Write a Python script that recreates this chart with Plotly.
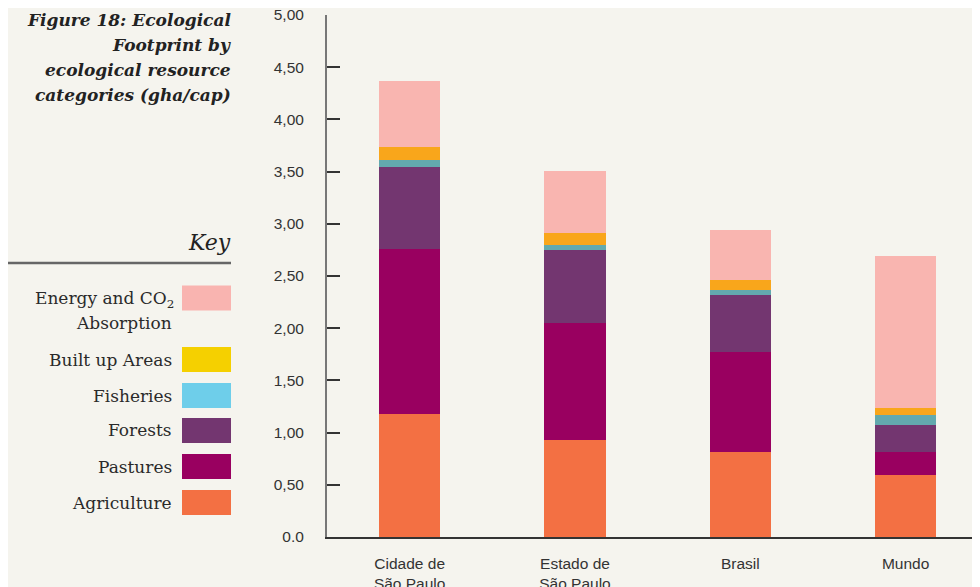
import plotly.graph_objects as go

# ---- data ----
categories = ["Cidade de<br>São Paulo", "Estado de<br>São Paulo", "Brasil", "Mundo"]
agriculture = [1.18, 0.93, 0.81, 0.59]
pastures = [1.58, 1.12, 0.96, 0.22]
forests = [0.785, 0.70, 0.545, 0.26]
fisheries = [0.065, 0.045, 0.05, 0.095]
built_up = [0.13, 0.115, 0.095, 0.075]
energy_co2 = [0.63, 0.60, 0.48, 1.455]

series_names = ["Agriculture", "Pastures", "Forests", "Fisheries", "Built up Areas", "Energy and CO2 Absorption"]
bar_colors = ["#F37043", "#990060", "#733670", "#63A9AE", "#F9A61B", "#F9B5B0"]
key_colors = {"Energy": "#F9B4B0", "Built": "#F5D000", "Fisheries": "#6ECEEA",
              "Forests": "#733670", "Pastures": "#990060", "Agriculture": "#F37043"}

y_tickvals = [0, 0.5, 1, 1.5, 2, 2.5, 3, 3.5, 4, 4.5, 5]
y_ticktext = ["0.0", "0,50", "1,00", "1,50", "2,00", "2,50", "3,00", "3,50", "4,00", "4,50", "5,00"]

title_lines = ["Figure 18: Ecological", "Footprint by", "ecological resource", "categories (gha/cap)"]

BG = "#F5F4EE"
OFF = 8  # page body margin
W, H = 980 - OFF, 587 - OFF
ML, MR, MT, MB = 327 - OFF, 0, 15 - OFF, 50
PW, PH = W - ML - MR, H - MT - MB


def px_x(px):
    return (px - OFF - ML) / PW


def px_y(py):
    return (H - MB - (py - OFF)) / PH


fig = go.Figure()
all_series = [agriculture, pastures, forests, fisheries, built_up, energy_co2]
for name, vals, col in zip(series_names, all_series, bar_colors):
    fig.add_trace(go.Bar(x=categories, y=vals, name=name, marker=dict(color=col, line=dict(width=0)),
                         showlegend=False, hoverinfo="y+name"))

shapes = []
annotations = []

# Title
title_y = [20, 45, 70, 95]
for t, yy in zip(title_lines, title_y):
    annotations.append(dict(text="<b><i>" + t + "</i></b>", x=px_x(233), y=px_y(yy), xref="paper", yref="paper",
                            xanchor="right", yanchor="middle", showarrow=False,
                            font=dict(family="DejaVu Serif", size=17, color="#222")))

# Key heading and rule
annotations.append(dict(text="<i>Key</i>", x=px_x(233), y=px_y(242), xref="paper", yref="paper",
                        xanchor="right", yanchor="middle", showarrow=False,
                        font=dict(family="DejaVu Serif", size=22, color="#222")))
shapes.append(dict(type="line", xref="paper", yref="paper", x0=px_x(6), x1=px_x(231),
                   y0=px_y(263), y1=px_y(263), line=dict(color="#666", width=2.5)))

# Key entries
key_items = [
    ("Energy", None, 298),
    ("Built", "Built up Areas", 359.5),
    ("Fisheries", "Fisheries", 395.5),
    ("Forests", "Forests", 430.5),
    ("Pastures", "Pastures", 466.5),
    ("Agriculture", "Agriculture", 502.5),
]
KEY_FONT = dict(family="DejaVu Serif", size=17, color="#2a2a2a")
for key, label, cy in key_items:
    shapes.append(dict(type="rect", xref="paper", yref="paper", x0=px_x(182), x1=px_x(231),
                       y0=px_y(cy - 12.5), y1=px_y(cy + 12.5), fillcolor=key_colors[key], line=dict(width=0)))
    if label is not None:
        annotations.append(dict(text=label, x=px_x(174), y=px_y(cy), xref="paper", yref="paper",
                                xanchor="right", yanchor="middle", showarrow=False, font=KEY_FONT))
annotations.append(dict(text="Energy and CO<sub>2</sub>", x=px_x(176), y=px_y(300), xref="paper", yref="paper",
                        xanchor="right", yanchor="middle", showarrow=False, font=KEY_FONT))
annotations.append(dict(text="Absorption", x=px_x(174), y=px_y(323), xref="paper", yref="paper",
                        xanchor="right", yanchor="middle", showarrow=False, font=KEY_FONT))

fig.update_layout(
    width=W, height=H,
    margin=dict(l=ML, r=MR, t=MT, b=MB, autoexpand=False),
    paper_bgcolor=BG, plot_bgcolor=BG,
    barmode="stack", bargap=0.63,
    shapes=shapes, annotations=annotations,
    font=dict(family="Liberation Sans, Arial", size=15, color="#333"),
    xaxis=dict(type="category", range=[-0.5, 3.45], showgrid=False, zeroline=False, automargin=False,
               ticklabeloverflow="allow",
               showline=True, linecolor="#333", linewidth=2, ticks="", ticklabelstandoff=11,
               tickfont=dict(family="Liberation Sans, Arial", size=15.5, color="#333")),
    yaxis=dict(range=[0, 5], tickvals=y_tickvals, ticktext=y_ticktext, showgrid=False, zeroline=False,
               automargin=False, ticklabeloverflow="allow",
               showline=True, linecolor="#777", linewidth=2, ticks="inside", ticklen=13, tickwidth=1.5,
               tickcolor="#333", ticklabelstandoff=18,
               tickfont=dict(family="Liberation Sans, Arial", size=15.5, color="#333")),
)

fig.write_html("out.html")
